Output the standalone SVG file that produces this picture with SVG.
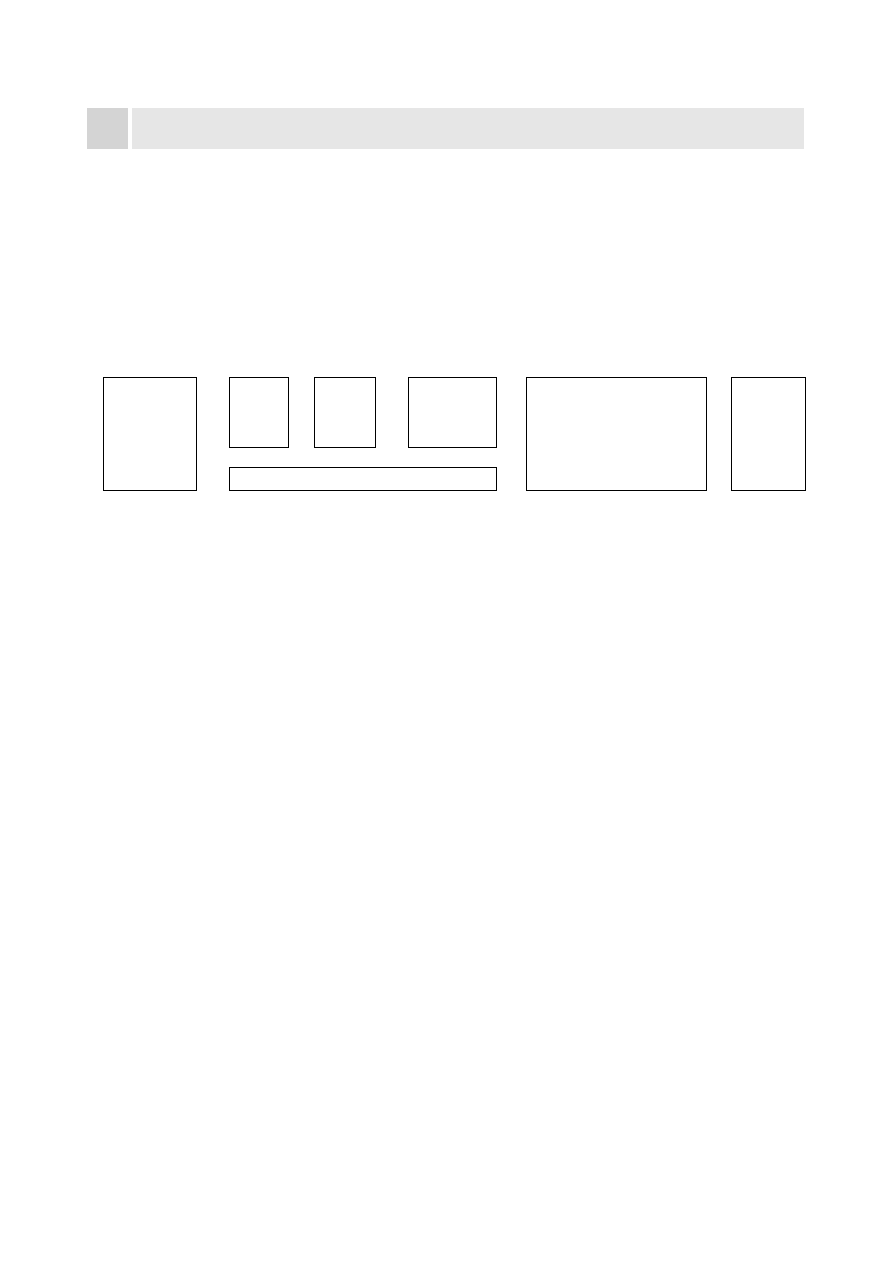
<svg xmlns="http://www.w3.org/2000/svg" width="893" height="1262" viewBox="0 0 893 1262">
<style>
.box{fill:#ffffff;stroke:#000000;stroke-width:1}
</style>
<rect x="0" y="0" width="893" height="1262" fill="#ffffff"/>
<g id="header">
<rect x="87" y="108" width="41" height="41" fill="#d4d4d4"/>
<rect x="132" y="108" width="672" height="41" fill="#e6e6e6"/>
</g>
<g id="node1"><rect class="box" x="103.5" y="377.5" width="93" height="113"/></g>
<g id="node2"><rect class="box" x="229.5" y="377.5" width="59" height="70"/></g>
<g id="node3"><rect class="box" x="314.5" y="377.5" width="61" height="70"/></g>
<g id="node4"><rect class="box" x="408.5" y="377.5" width="88" height="70"/></g>
<g id="node5"><rect class="box" x="229.5" y="467.5" width="267" height="23"/></g>
<g id="node6"><rect class="box" x="526.5" y="377.5" width="180" height="113"/></g>
<g id="node7"><rect class="box" x="731.5" y="377.5" width="74" height="113"/></g>
<g id="connectors"></g>
</svg>
